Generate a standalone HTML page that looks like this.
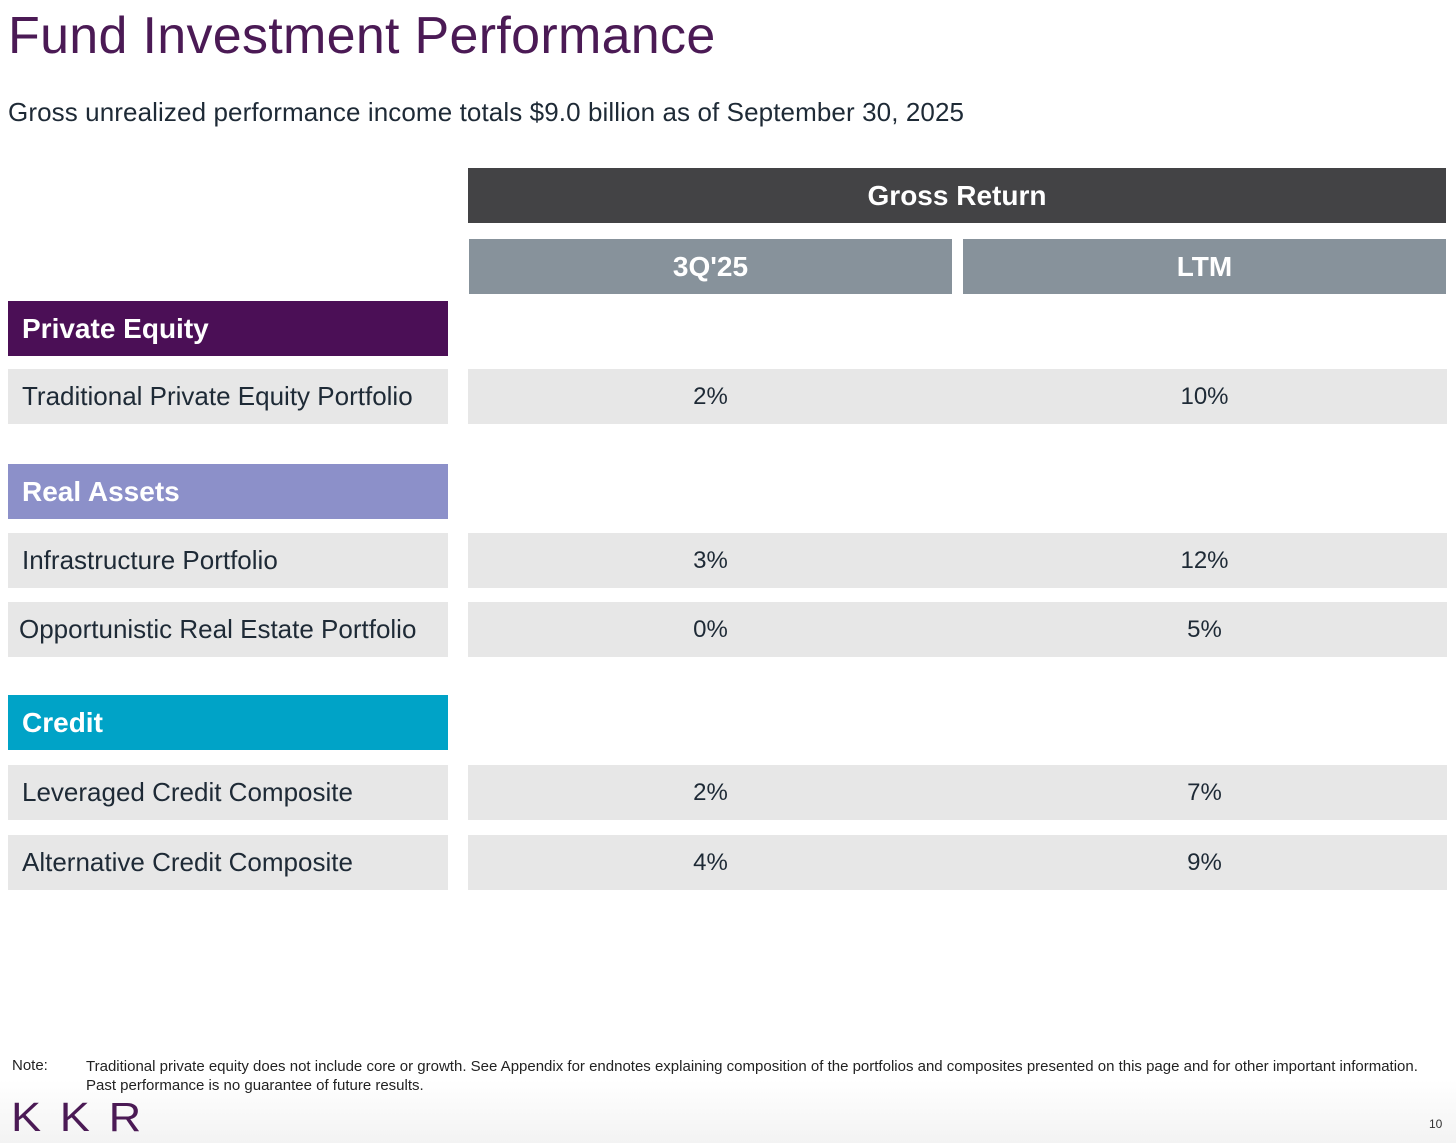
<!DOCTYPE html>
<html><head><meta charset="utf-8"><style>
body{margin:0;width:1456px;height:1143px;position:relative;background:linear-gradient(#fff 0,#fff 1080px,#f3f3f3 1143px);font-family:"Liberation Sans",sans-serif;overflow:hidden}
.a{position:absolute;box-sizing:border-box}
.cell{display:flex;align-items:center;justify-content:center}
.lbl{display:flex;align-items:center;padding-left:14px;font-size:26px;color:#1e2a36;background:#e7e7e7}
.sec{display:flex;align-items:center;padding-left:14px;font-size:28px;font-weight:bold;color:#fff}
.val{background:#e7e7e7;font-size:24px;color:#1e2a36}
</style></head><body>
<div class="a" style="left:8px;top:6px;font-size:52px;color:#4b1a55;letter-spacing:0.3px">Fund Investment Performance</div>
<div class="a" style="left:8px;top:97px;font-size:26px;color:#1e2a36;letter-spacing:0.1px">Gross unrealized performance income totals $9.0 billion as of September 30, 2025</div>
<div class="a cell" style="left:468px;top:168px;width:978px;height:55px;background:#434345;color:#fff;font-size:28px;font-weight:bold">Gross Return</div>
<div class="a cell" style="left:469px;top:239px;width:483px;height:55px;background:#87929b;color:#fff;font-size:28px;font-weight:bold">3Q'25</div>
<div class="a cell" style="left:963px;top:239px;width:483px;height:55px;background:#87929b;color:#fff;font-size:28px;font-weight:bold">LTM</div>
<div id="tbl"></div>
<div class="a" style="left:12px;top:1057px;font-size:15px;color:#222">Note:</div>
<div class="a" style="left:86px;top:1057px;width:1365px;font-size:15px;line-height:19px;color:#222;white-space:nowrap">Traditional private equity does not include core or growth. See Appendix for endnotes explaining composition of the portfolios and composites presented on this page and for other important information.<br>Past performance is no guarantee of future results.</div>
<div class="a" style="left:11px;top:1094px;font-size:41px;color:#4b1a55;letter-spacing:17px;transform:scaleX(1.1);transform-origin:left">KKR</div>
<div class="a" style="left:1429px;top:1117px;font-size:12px;color:#333">10</div>
<script>
const sections=["Private Equity","Real Assets","Credit"];
const sectionColors=["#4b0f56","#8c90c9","#00a3c7"];
const sectionTops=[301,464,695];
const rowLabels=["Traditional Private Equity Portfolio","Infrastructure Portfolio","Opportunistic Real Estate Portfolio","Leveraged Credit Composite","Alternative Credit Composite"];
const q3Values=["2%","3%","0%","2%","4%"];
const ltmValues=["10%","12%","5%","7%","9%"];
const rowTops=[369,533,602,765,835];
const t=document.getElementById('tbl');
function mk(cls,name,l,tp,w,h,txt,bg){const d=document.createElement('div');d.className='a '+cls;


d.style.cssText=`left:${l}px;top:${tp}px;width:${w}px;height:${h}px;`+(bg?`background:${bg};`:'');d.textContent=txt;t.appendChild(d);return d;}
sections.forEach((s,i)=>{mk('sec','section-header-'+s.toLowerCase().replace(/ /g,'-'),8,sectionTops[i],440,55,s,sectionColors[i]);});
rowLabels.forEach((r,i)=>{
const lb=mk('lbl','row-label',8,rowTops[i],440,55,r);
if(i===2)lb.style.paddingLeft='11px';
mk('val','row-values-bg',468,rowTops[i],979,55,'');
const a=mk('cell','value-3q25',469,rowTops[i],483,55,q3Values[i]);a.style.fontSize='24px';a.style.color='#1e2a36';
const b=mk('cell','value-ltm',963,rowTops[i],483,55,ltmValues[i]);b.style.fontSize='24px';b.style.color='#1e2a36';
});
</script>
</body></html>
